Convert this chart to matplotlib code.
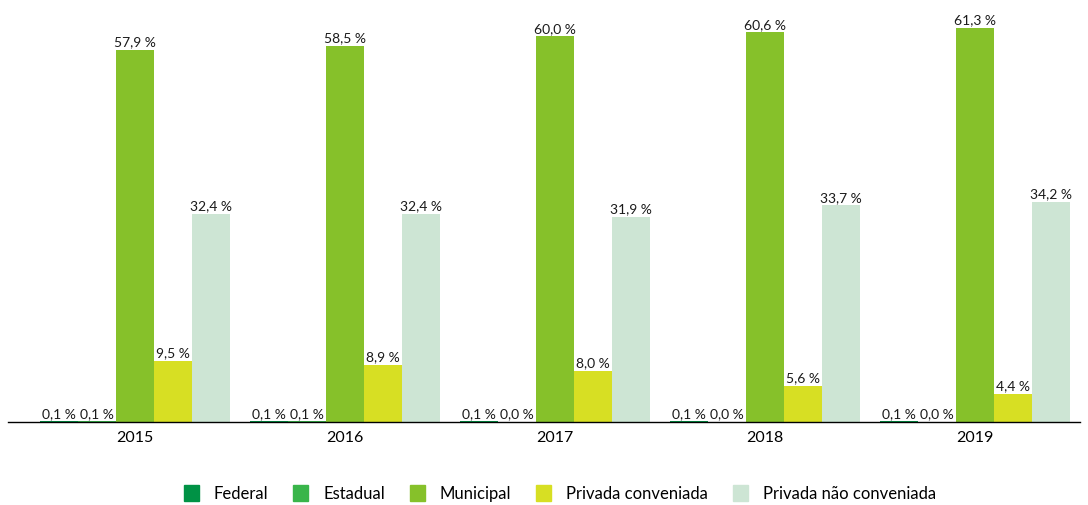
import matplotlib.pyplot as plt
import numpy as np

years = ["2015", "2016", "2017", "2018", "2019"]
series = ["Federal", "Estadual", "Municipal", "Privada conveniada", "Privada não conveniada"]
federal = [0.1, 0.1, 0.1, 0.1, 0.1]
estadual = [0.1, 0.1, 0.0, 0.0, 0.0]
municipal = [57.9, 58.5, 60.0, 60.6, 61.3]
conveniada = [9.5, 8.9, 8.0, 5.6, 4.4]
nao_conveniada = [32.4, 32.4, 31.9, 33.7, 34.2]
colors = ["#009245", "#39B54A", "#86C12A", "#D7DF23", "#CDE5D4"]

plt.rcParams['font.family'] = ['Lato', 'DejaVu Sans']

fig = plt.figure(figsize=(10.88, 5.06), dpi=100)
ax = fig.add_axes([8 / 1088, 83 / 506, 1072 / 1088, 423 / 506])

values = [federal, estadual, municipal, conveniada, nao_conveniada]
x = np.arange(len(years))
width = 38 / 210
for i, (name, vals, c) in enumerate(zip(series, values, colors)):
    pos = x + (i - 2) * width
    bars = ax.bar(pos, vals, width, color=c, label=name)
    for b, v in zip(bars, vals):
        ax.text(b.get_x() + b.get_width() / 2, v + 0.4,
                "{:.1f} %".format(v).replace(".", ","),
                ha="center", va="bottom", fontsize=10, color="#1a1a1a")

ax.set_xlim(-0.605, 4.5)
ax.set_ylim(0, 65.8)
ax.set_xticks(x)
ax.set_xticklabels(years, fontsize=11.5)
ax.tick_params(axis="x", length=0, pad=6)
ax.set_yticks([])
for s in ["top", "right", "left"]:
    ax.spines[s].set_visible(False)
ax.spines["bottom"].set_color("black")
ax.spines["bottom"].set_linewidth(1)
ax.spines["bottom"].set_zorder(5)

handles = [plt.Rectangle((0, 0), 1, 1, color=c) for c in colors]
fig.legend(handles, series, loc="center", bbox_to_anchor=(560 / 1088, 1 - 494 / 506),
           ncol=5, frameon=False, fontsize=12, handlelength=0.9, handleheight=1.1,
           columnspacing=1.5, handletextpad=0.9)

fig.savefig("out.png", dpi=100)
